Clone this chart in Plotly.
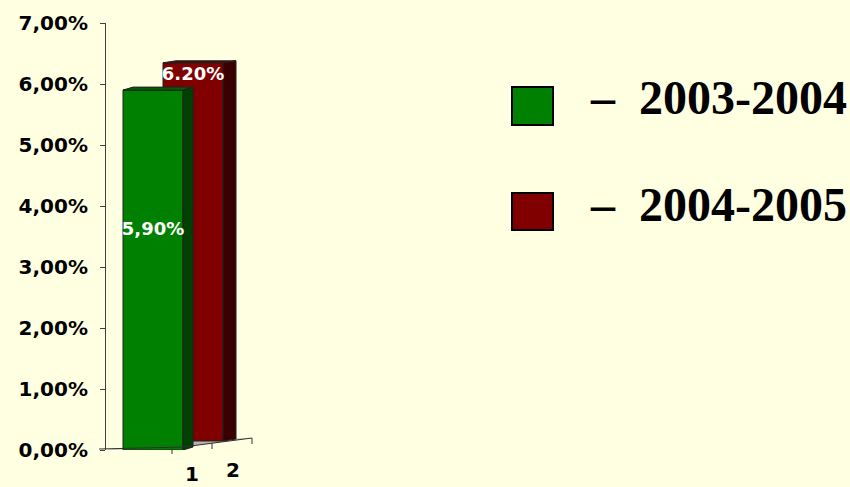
"""
Two-season 3D-style column chart with a custom legend.
"""

import plotly.graph_objects as go

# --- data -------------------------------------------------------------
series_names = ["2003-2004", "2004-2005"]
series_values = [5.90, 6.20]
value_labels = ["5,90%", "6.20%"]
depth_labels = ["1", "2"]
tick_values = [0, 1, 2, 3, 4, 5, 6, 7]
tick_labels = ["0,00%", "1,00%", "2,00%", "3,00%", "4,00%", "5,00%", "6,00%", "7,00%"]

# --- styling / geometry -----------------------------------------------
W, H = 850, 487
BG = "#FFFFE1"
FRONT = ["#008000", "#800000"]
SIDE = ["#004000", "#3A0000"]
TOP = ["#006000", "#5A0000"]
OUTLINE = "#202020"

AX_LEFT, AX_WIDTH = 106, 150          # x axis: 1 unit = 1 px
Y0_PX, Y7_PX = 450, 23                # y pixel of 0 % and 7 %
PX_PER_PCT = (Y0_PX - Y7_PX) / 7.0

# per series: left edge of front face (x units), bar width, base lift (px),
# side depth (px), side rise (px)
bar_left = [17, 57]
bar_width = 60
base_lift_px = [0, 9]
side_dx = [10, 13]
side_rise_px = [3, 2]


def paper_x(px):
    return px / W


def paper_y(py):
    return 1 - py / H


fig = go.Figure()

# draw back row first so the front row overlaps it
for i in reversed(range(len(series_values))):
    v = series_values[i]
    b = base_lift_px[i] / PX_PER_PCT
    r = side_rise_px[i] / PX_PER_PCT
    x0 = bar_left[i]
    x1 = x0 + bar_width
    x2 = x1 + side_dx[i]

    # side face
    fig.add_trace(go.Scatter(
        x=[x1, x2, x2, x1, x1],
        y=[b, b + r, b + v + r, b + v, b],
        fill="toself", fillcolor=SIDE[i], mode="lines",
        line=dict(color=OUTLINE, width=1), hoverinfo="skip", showlegend=False,
    ))
    # top face
    fig.add_trace(go.Scatter(
        x=[x0, x1, x2, x0 + side_dx[i], x0],
        y=[b + v, b + v, b + v + r, b + v + r, b + v],
        fill="toself", fillcolor=TOP[i], mode="lines",
        line=dict(color=OUTLINE, width=1), hoverinfo="skip", showlegend=False,
    ))
    # front face
    fig.add_trace(go.Bar(
        x=[x0 + bar_width / 2], y=[v], base=[b], width=[bar_width],
        name=series_names[i],
        marker=dict(color=FRONT[i], line=dict(color=OUTLINE, width=1)),
        showlegend=False,
    ))

# value labels
label_y = [series_values[0] * 0.61,
           base_lift_px[1] / PX_PER_PCT + series_values[1] - 0.2]
fig.add_trace(go.Scatter(
    x=[bar_left[i] + bar_width / 2 for i in range(len(series_values))],
    y=label_y,
    mode="text", text=value_labels,
    textfont=dict(family="DejaVu Sans", size=18, color="white", weight="bold"),
    hoverinfo="skip", showlegend=False,
))

shapes = []
# floor
shapes.append(dict(
    type="path", xref="paper", yref="paper", layer="below",
    path=(f"M {paper_x(106)} {paper_y(450)} L {paper_x(183)} {paper_y(447)} "
          f"L {paper_x(252)} {paper_y(438)} L {paper_x(175)} {paper_y(441)} Z"),
    fillcolor="#B4B4B4", line=dict(width=0),
))
# depth axis line
shapes.append(dict(
    type="path", xref="paper", yref="paper",
    path=(f"M {paper_x(99)} {paper_y(449)} L {paper_x(183)} {paper_y(447)} "
          f"L {paper_x(252)} {paper_y(438)}"),
    line=dict(color="#303030", width=1),
))
for tx, ty in [(172, 448), (212, 443), (252, 438)]:
    shapes.append(dict(
        type="line", xref="paper", yref="paper",
        x0=paper_x(tx), x1=paper_x(tx), y0=paper_y(ty), y1=paper_y(ty + 6),
        line=dict(color="#303030", width=1),
    ))

annotations = []
for lbl, (lx, ly) in zip(depth_labels, [(192, 474), (233, 470)]):
    annotations.append(dict(
        x=paper_x(lx), y=paper_y(ly), xref="paper", yref="paper",
        text=lbl, showarrow=False, xanchor="center", yanchor="middle",
        font=dict(family="DejaVu Sans", size=20, color="black", weight="bold"),
    ))

# custom legend
legend_rows = [(87, 125, 98), (193, 230, 204)]
for i, (top, bottom, text_y) in enumerate(legend_rows):
    shapes.append(dict(
        type="rect", xref="paper", yref="paper",
        x0=paper_x(512), x1=paper_x(553), y0=paper_y(bottom), y1=paper_y(top),
        fillcolor=FRONT[i], line=dict(color="black", width=2),
    ))
    annotations.append(dict(
        x=paper_x(588), y=paper_y(text_y), xref="paper", yref="paper",
        text="\u2013\u00a0\u00a0" + series_names[i], showarrow=False,
        xanchor="left", yanchor="middle",
        font=dict(family="Liberation Serif", size=48, color="black", weight="bold"),
    ))

fig.update_layout(
    width=W, height=H,
    margin=dict(l=0, r=0, t=0, b=0),
    paper_bgcolor=BG, plot_bgcolor=BG,
    barmode="overlay",
    showlegend=False,
    shapes=shapes,
    annotations=annotations,
    xaxis=dict(
        domain=[paper_x(AX_LEFT), paper_x(AX_LEFT + AX_WIDTH)],
        range=[0, AX_WIDTH], visible=False, fixedrange=True,
    ),
    yaxis=dict(
        domain=[paper_y(Y0_PX), paper_y(Y7_PX)],
        range=[0, 7], automargin=False,
        tickvals=tick_values, ticktext=tick_labels,
        ticks="outside", ticklen=5, tickcolor="#404040",
        showline=True, linecolor="#404040", linewidth=1,
        showgrid=False, zeroline=False,
        ticklabelstandoff=8,
        tickfont=dict(family="DejaVu Sans", size=20, color="black", weight="bold"),
    ),
)

# page body has a default 8px margin; drop it so the figure fills the window
fig.write_html(
    "out.html",
    config={"displayModeBar": False},
    post_script="document.body.style.margin = '0';",
)
